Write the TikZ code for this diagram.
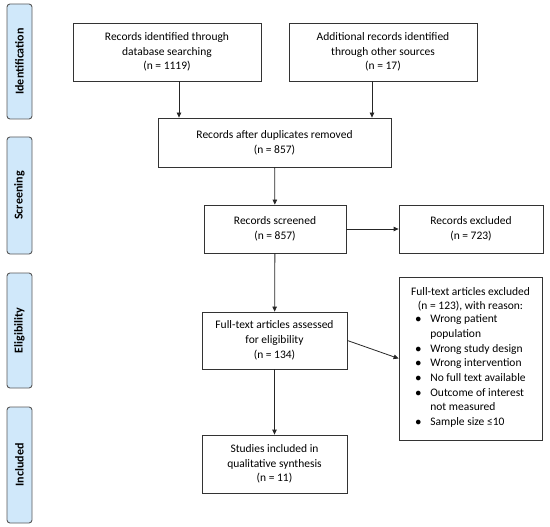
\documentclass[tikz,border=0pt]{standalone}
\usepackage{fontspec}
\setmainfont{Carlito}
\usepackage{xcolor}
\usetikzlibrary{arrows.meta, positioning}
\definecolor{phaseblue}{RGB}{208,232,250}

\begin{document}
\begin{tikzpicture}[
    x=1pt, y=-1pt,
    font=\fontsize{11.5}{14.7}\selectfont,
    every node/.style={align=center},
    box/.style={draw=black!80, line width=0.8pt, inner sep=2pt},
    phase/.style={draw=black!65, line width=0.9pt, rounded corners=3pt, fill=phaseblue,
                  minimum width=25pt, rotate=90, inner sep=0pt, font=\fontsize{12}{14}\selectfont\bfseries},
    arrow/.style={-{Triangle[length=5pt,width=4.5pt]}, line width=0.8pt, black!85},
]
\useasboundingbox (0,0) rectangle (550,527);

% --- Phase labels on the left
\node[phase, minimum height=25pt, minimum width=115pt] (ident)  at (19.5,61.5)  {Identification};
\node[phase, minimum height=25pt, minimum width=117pt] (screen) at (19.5,195.5) {Screening};
\node[phase, minimum height=25pt, minimum width=115pt] (elig)   at (19.5,330.5) {Eligibility};
\node[phase, minimum height=25pt, minimum width=116pt] (incl)   at (19.5,465)   {Included};

% --- Flow boxes
\node[box, minimum width=188pt, minimum height=58pt] (db)   at (167,52)
    {Records identified through\\database searching\\(n = 1119)};
\node[box, minimum width=188pt, minimum height=58pt] (other) at (383,52)
    {Additional records identified\\through other sources\\(n = 17)};
\node[box, minimum width=233pt, minimum height=49pt] (dup)  at (274.5,142.5)
    {Records after duplicates removed\\(n = 857)};
\node[box, minimum width=142pt, minimum height=48pt] (scr)  at (275,229)
    {Records screened\\(n = 857)};
\node[box, minimum width=144pt, minimum height=48pt] (excl) at (471,229)
    {Records excluded\\(n = 723)};
\node[box, minimum width=145pt, minimum height=57pt] (full) at (274.5,340.5)
    {Full-text articles assessed\\for eligibility\\(n = 134)};
\node[box, minimum width=145pt, minimum height=58pt] (qual) at (274.5,464)
    {Studies included in\\qualitative synthesis\\(n = 11)};
\node[box, minimum width=143pt, minimum height=163pt] (ftex) at (470.5,358.5)
    {Full-text articles excluded\\(n = 123), with reason:\\
     \begin{tabular}{@{}l@{\hspace{9pt}}l@{}}
       $\bullet$ & Wrong patient\\
                 & population\\
       $\bullet$ & Wrong study design\\
       $\bullet$ & Wrong intervention\\
       $\bullet$ & No full text available\\
       $\bullet$ & Outcome of interest\\
                 & not measured\\
       $\bullet$ & Sample size ≤10
     \end{tabular}};

% --- Arrows
\draw[arrow] ([xshift=12pt]db.south) -- ([xshift=12pt]db.south |- dup.north);
\draw[arrow] ([xshift=-11pt]other.south) -- ([xshift=-11pt]other.south |- dup.north);
\draw[arrow] (dup)  -- (scr);
\draw[arrow] (scr)  -- (excl);
\draw[arrow] (scr)  -- (full);
\draw[arrow] (full) -- (qual);
\draw[arrow] (full.east) -- (ftex.west);

\end{tikzpicture}
\end{document}
